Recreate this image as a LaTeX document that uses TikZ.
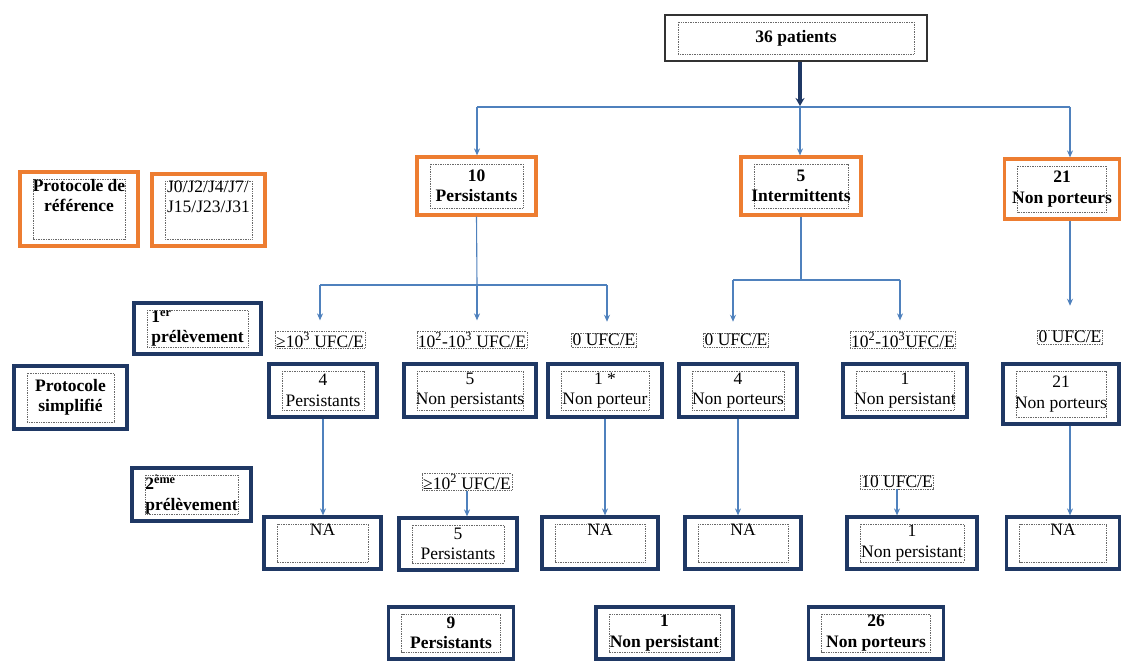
\documentclass[tikz,border=0pt]{standalone}
\usepackage{fontspec}
\setmainfont{Liberation Serif}
\usetikzlibrary{arrows.meta,calc}
\definecolor{borange}{RGB}{237,125,49}
\definecolor{bnavy}{RGB}{31,56,100}
\definecolor{bblue}{RGB}{79,129,189}
\definecolor{dotgray}{RGB}{105,105,105}
\tikzset{
  innerdot/.style={path picture={\draw[dotgray,line width=0.7pt,dash pattern=on 0.8pt off 0.9pt]
      ([xshift=13pt,yshift=-7pt]path picture bounding box.north west) rectangle
      ([xshift=-13pt,yshift=7pt]path picture bounding box.south east);}},
  basebox/.style={innerdot, fill=white, inner sep=0pt, align=center, font=\fontsize{17.5}{20.5}\selectfont},
  obox/.style={basebox, draw=borange, line width=3.2pt, font=\fontsize{17.5}{20.5}\selectfont\bfseries},
  nbox/.style={basebox, draw=bnavy, line width=3.2pt},
  nboxb/.style={nbox, font=\fontsize{17.5}{20.5}\selectfont\bfseries},
  tbox/.style={basebox, draw=black!80, line width=1.4pt, font=\fontsize{17.5}{20.5}\selectfont\bfseries},
  lab/.style={draw=dotgray, line width=0.7pt, dash pattern=on 0.8pt off 0.9pt, inner sep=1pt,
      font=\fontsize{17.5}{20.5}\selectfont},
  conn/.style={draw=bblue, line width=1.1pt},
  arr/.style={conn, -{Stealth[length=7pt,width=6pt]}},
}
\begin{document}
\begin{tikzpicture}[x=1pt,y=-1pt]
\useasboundingbox (0,0) rectangle (1122,663);
\fill[white] (0,0) rectangle (1122,663);

% top
\node[tbox, minimum width=262pt, minimum height=46pt] (top) at (796,38) {36 patients};

% level 1 (orange)
\node[obox, minimum width=119pt, minimum height=58pt] (p10) at (476.5,186) {10\\Persistants};
\node[obox, minimum width=120pt, minimum height=58pt] (i5) at (801,186) {5\\Intermittents};
\node[obox, minimum width=115pt, minimum height=60pt] (n21) at (1062,189) {21\\Non porteurs};
\node[obox, minimum width=118pt, minimum height=74pt] (pref) at (79,209) {Protocole de\\référence\\\strut};
\node[basebox, draw=borange, line width=3.2pt, align=left, minimum width=113pt, minimum height=72pt] (jours) at (208.5,210) {J0/J2/J4/J7/\\J15/J23/J31\\\strut};

% left side navy labels
\node[nboxb, align=left, minimum width=127pt, minimum height=51pt] (pre1) at (197.5,328.5) {1\textsuperscript{er}\hspace*{60pt}\\prélèvement};
\node[nboxb, minimum width=113pt, minimum height=63pt] (psimp) at (70.5,397.5) {Protocole\\simplifié};
\node[nboxb, align=left, minimum width=119pt, minimum height=53pt] (pre2) at (191.5,494.5) {2\textsuperscript{ème}\hspace*{50pt}\\prélèvement};

% first sampling labels
\node[lab] (l1) at (320,340) {≥10\textsuperscript{3} UFC/E};
\node[lab] (l2) at (472,340) {10\textsuperscript{2}-10\textsuperscript{3} UFC/E};
\node[lab] (l3) at (604,340) {0 UFC/E};
\node[lab] (l4) at (736,340) {0 UFC/E};
\node[lab] (l5) at (903,340) {10\textsuperscript{2}-10\textsuperscript{3}UFC/E};
\node[lab] (l6) at (1070,337) {0 UFC/E};

% row 1 boxes
\node[nbox, minimum width=108pt, minimum height=53pt] (r1a) at (323,390.5) {4\\Persistants};
\node[nbox, minimum width=132pt, minimum height=53pt] (r1b) at (470,390.5) {5\\Non persistants};
\node[nbox, minimum width=114pt, minimum height=53pt] (r1c) at (605,390.5) {1 *\\Non porteur};
\node[nbox, minimum width=118pt, minimum height=53pt] (r1d) at (738,390.5) {4\\Non porteurs};
\node[nbox, minimum width=124pt, minimum height=53pt] (r1e) at (905,390.5) {1\\Non persistant};
\node[nbox, minimum width=116pt, minimum height=60pt] (r1f) at (1061,394) {21\\Non porteurs};

% second sampling labels
\node[lab] (l7) at (467,482) {≥10\textsuperscript{2} UFC/E};
\node[lab] (l8) at (897,482) {10 UFC/E};

% row 2 boxes
\node[nbox, minimum width=117pt, minimum height=52pt] (na1) at (322.5,543) {NA\\\strut};
\node[nbox, minimum width=118pt, minimum height=52pt] (r2b) at (458,544) {5\\Persistants};
\node[nbox, minimum width=116pt, minimum height=52pt] (na3) at (600,543) {NA\\\strut};
\node[nbox, minimum width=116pt, minimum height=52pt] (na4) at (743,543) {NA\\\strut};
\node[nbox, minimum width=130pt, minimum height=52pt] (r2e) at (912,543) {1\\Non persistant};
\node[nbox, minimum width=113pt, minimum height=52pt] (na6) at (1063,543) {NA\\\strut};

% results
\node[nboxb, minimum width=125pt, minimum height=52pt] (res1) at (451,633) {9\\Persistants};
\node[nboxb, minimum width=137pt, minimum height=52pt] (res2) at (664.5,633) {1\\Non persistant};
\node[nboxb, minimum width=135pt, minimum height=52pt] (res3) at (876,633) {26\\Non porteurs};

% connectors: top level
\coordinate (hj) at (800,107);
\coordinate (hl) at (477,107);
\coordinate (hr) at (1070,107);
\draw[bnavy, line width=3.5pt, -{Stealth[length=8pt,width=9pt]}] (top.south -| hj) -- ([yshift=1pt]hj);
\draw[conn] (hl) -- (hr);
\draw[arr] (hl) -- (hl |- p10.north);
\draw[arr] (hj) -- (hj |- i5.north);
\draw[arr] (hr) -- (hr |- n21.north);

% persistants branches
\coordinate (pj) at (477,285);
\coordinate (pjl) at (320,285);
\coordinate (pjr) at (607,285);
\draw[conn] (p10.south) -- (pj);
\draw[conn] (pjl) -- (pjr);
\draw[arr, shorten >=11pt] (pjl) -- (pjl |- l1.north);
\draw[arr, shorten >=11pt] (pj) -- (pj |- l2.north);
\draw[arr, shorten >=11pt] (pjr) -- (pjr |- l3.north);

% intermittents branches
\coordinate (ij) at (801,280);
\coordinate (ijl) at (733,280);
\coordinate (ijr) at (900,280);
\draw[conn] (i5.south) -- (ij);
\draw[conn] (ijl) -- (ijr);
\draw[arr, shorten >=11pt] (ijl) -- (ijl |- l4.north);
\draw[arr, shorten >=11pt] (ijr) -- (ijr |- l5.north);

% non porteurs branch
\draw[arr, shorten >=24pt] (n21.south -| l6.north) -- (l6.north);

% row 1 to row 2
\draw[arr] (r1a.south) -- (r1a.south |- na1.north);
\draw[arr] (r1c.south) -- (r1c.south |- na3.north);
\draw[arr] (r1d.south) -- (r1d.south |- na4.north);
\draw[arr] (r1f.south -| l6.south) -- (l6.south |- na6.north);
\draw[arr] (l7.south) -- (l7.south |- r2b.north);
\draw[arr] (l8.south) -- (l8.south |- r2e.north);
\end{tikzpicture}
\end{document}
